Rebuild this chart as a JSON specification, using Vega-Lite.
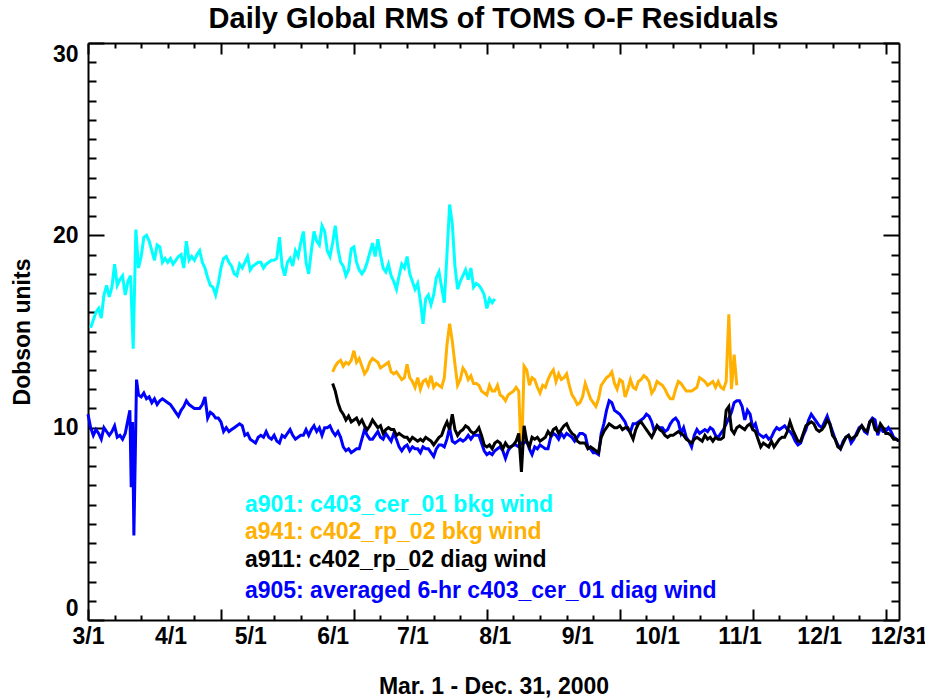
{
"$schema": "https://vega.github.io/schema/vega-lite/v6.json",
"width": 811, "height": 577,
"autosize": {"type": "none"},
"padding": {"left": 88, "top": 43, "right": 26, "bottom": 80},
"background": "white",
"title": {"text": "Daily Global RMS of TOMS O-F Residuals", "font": "Liberation Sans", "fontSize": 29, "fontWeight": "bold", "color": "black", "anchor": "middle", "frame": "group", "baseline": "alphabetic", "offset": -15},
"config": {
  "view": {"stroke": null},
  "axis": {"domainColor": "black", "tickColor": "black", "labelColor": "black", "titleColor": "black", "labelFont": "Liberation Sans", "titleFont": "Liberation Sans", "labelFontWeight": "bold", "titleFontWeight": "bold", "labelFontSize": 23, "titleFontSize": 23, "grid": false, "domainWidth": 2, "tickWidth": 2, "labelOverlap": false, "labelFlush": false}
},
"datasets": {
"ts": [
{"s":"a901","d":"2000-03-02","v":15.2},{"s":"a901","d":"2000-03-03","v":15.6},{"s":"a901","d":"2000-03-04","v":16.0},{"s":"a901","d":"2000-03-05","v":16.2},{"s":"a901","d":"2000-03-06","v":15.7},{"s":"a901","d":"2000-03-07","v":16.9},{"s":"a901","d":"2000-03-08","v":17.4},{"s":"a901","d":"2000-03-09","v":16.8},{"s":"a901","d":"2000-03-10","v":17.3},{"s":"a901","d":"2000-03-11","v":18.5},{"s":"a901","d":"2000-03-12","v":17.4},{"s":"a901","d":"2000-03-13","v":17.7},{"s":"a901","d":"2000-03-14","v":17.9},{"s":"a901","d":"2000-03-15","v":16.9},{"s":"a901","d":"2000-03-16","v":17.6},{"s":"a901","d":"2000-03-17","v":17.9},{"s":"a901","d":"2000-03-18","v":14.1},{"s":"a901","d":"2000-03-19","v":20.3},{"s":"a901","d":"2000-03-20","v":18.3},{"s":"a901","d":"2000-03-21","v":18.9},{"s":"a901","d":"2000-03-22","v":19.9},{"s":"a901","d":"2000-03-23","v":20.0},{"s":"a901","d":"2000-03-24","v":19.7},{"s":"a901","d":"2000-03-25","v":19.2},{"s":"a901","d":"2000-03-26","v":18.7},{"s":"a901","d":"2000-03-27","v":19.5},{"s":"a901","d":"2000-03-28","v":19.4},{"s":"a901","d":"2000-03-29","v":18.6},{"s":"a901","d":"2000-03-30","v":18.8},{"s":"a901","d":"2000-03-31","v":18.6},
{"s":"a901","d":"2000-04-01","v":18.8},{"s":"a901","d":"2000-04-02","v":18.5},{"s":"a901","d":"2000-04-03","v":18.7},{"s":"a901","d":"2000-04-04","v":18.9},{"s":"a901","d":"2000-04-05","v":19.0},{"s":"a901","d":"2000-04-06","v":18.3},{"s":"a901","d":"2000-04-07","v":19.7},{"s":"a901","d":"2000-04-08","v":18.7},{"s":"a901","d":"2000-04-09","v":18.9},{"s":"a901","d":"2000-04-10","v":18.7},{"s":"a901","d":"2000-04-11","v":19.0},{"s":"a901","d":"2000-04-12","v":19.2},{"s":"a901","d":"2000-04-13","v":18.6},{"s":"a901","d":"2000-04-14","v":18.3},{"s":"a901","d":"2000-04-15","v":17.8},{"s":"a901","d":"2000-04-16","v":17.4},{"s":"a901","d":"2000-04-17","v":17.3},{"s":"a901","d":"2000-04-18","v":16.9},{"s":"a901","d":"2000-04-19","v":17.5},{"s":"a901","d":"2000-04-20","v":18.3},{"s":"a901","d":"2000-04-21","v":18.8},{"s":"a901","d":"2000-04-22","v":18.9},{"s":"a901","d":"2000-04-23","v":18.6},{"s":"a901","d":"2000-04-24","v":18.4},{"s":"a901","d":"2000-04-25","v":18.0},{"s":"a901","d":"2000-04-26","v":17.9},{"s":"a901","d":"2000-04-27","v":18.5},{"s":"a901","d":"2000-04-28","v":18.3},{"s":"a901","d":"2000-04-29","v":18.6},{"s":"a901","d":"2000-04-30","v":18.9},
{"s":"a901","d":"2000-05-01","v":18.2},{"s":"a901","d":"2000-05-02","v":18.4},{"s":"a901","d":"2000-05-03","v":18.5},{"s":"a901","d":"2000-05-04","v":18.6},{"s":"a901","d":"2000-05-05","v":18.6},{"s":"a901","d":"2000-05-06","v":18.3},{"s":"a901","d":"2000-05-07","v":18.5},{"s":"a901","d":"2000-05-08","v":18.6},{"s":"a901","d":"2000-05-09","v":18.7},{"s":"a901","d":"2000-05-10","v":18.7},{"s":"a901","d":"2000-05-11","v":18.8},{"s":"a901","d":"2000-05-12","v":19.9},{"s":"a901","d":"2000-05-13","v":18.4},{"s":"a901","d":"2000-05-14","v":17.9},{"s":"a901","d":"2000-05-15","v":18.6},{"s":"a901","d":"2000-05-16","v":18.8},{"s":"a901","d":"2000-05-17","v":18.4},{"s":"a901","d":"2000-05-18","v":19.2},{"s":"a901","d":"2000-05-19","v":18.9},{"s":"a901","d":"2000-05-20","v":19.6},{"s":"a901","d":"2000-05-21","v":20.2},{"s":"a901","d":"2000-05-22","v":18.6},{"s":"a901","d":"2000-05-23","v":18.0},{"s":"a901","d":"2000-05-24","v":19.2},{"s":"a901","d":"2000-05-25","v":20.2},{"s":"a901","d":"2000-05-26","v":19.7},{"s":"a901","d":"2000-05-27","v":19.5},{"s":"a901","d":"2000-05-28","v":20.5},{"s":"a901","d":"2000-05-29","v":20.2},{"s":"a901","d":"2000-05-30","v":19.2},{"s":"a901","d":"2000-05-31","v":18.9},
{"s":"a901","d":"2000-06-01","v":19.6},{"s":"a901","d":"2000-06-02","v":20.5},{"s":"a901","d":"2000-06-03","v":19.3},{"s":"a901","d":"2000-06-04","v":18.6},{"s":"a901","d":"2000-06-05","v":18.4},{"s":"a901","d":"2000-06-06","v":17.9},{"s":"a901","d":"2000-06-07","v":18.2},{"s":"a901","d":"2000-06-08","v":19.3},{"s":"a901","d":"2000-06-09","v":19.4},{"s":"a901","d":"2000-06-10","v":18.6},{"s":"a901","d":"2000-06-11","v":18.2},{"s":"a901","d":"2000-06-12","v":18.0},{"s":"a901","d":"2000-06-13","v":18.2},{"s":"a901","d":"2000-06-14","v":18.6},{"s":"a901","d":"2000-06-15","v":19.1},{"s":"a901","d":"2000-06-16","v":19.6},{"s":"a901","d":"2000-06-17","v":18.9},{"s":"a901","d":"2000-06-18","v":19.8},{"s":"a901","d":"2000-06-19","v":19.0},{"s":"a901","d":"2000-06-20","v":18.3},{"s":"a901","d":"2000-06-21","v":18.1},{"s":"a901","d":"2000-06-22","v":18.5},{"s":"a901","d":"2000-06-23","v":17.9},{"s":"a901","d":"2000-06-24","v":17.6},{"s":"a901","d":"2000-06-25","v":17.2},{"s":"a901","d":"2000-06-26","v":17.9},{"s":"a901","d":"2000-06-27","v":18.5},{"s":"a901","d":"2000-06-28","v":18.3},{"s":"a901","d":"2000-06-29","v":18.9},{"s":"a901","d":"2000-06-30","v":18.0},
{"s":"a901","d":"2000-07-01","v":17.6},{"s":"a901","d":"2000-07-02","v":17.2},{"s":"a901","d":"2000-07-03","v":17.5},{"s":"a901","d":"2000-07-04","v":16.6},{"s":"a901","d":"2000-07-05","v":15.4},{"s":"a901","d":"2000-07-06","v":16.7},{"s":"a901","d":"2000-07-07","v":16.9},{"s":"a901","d":"2000-07-08","v":16.4},{"s":"a901","d":"2000-07-09","v":16.9},{"s":"a901","d":"2000-07-10","v":17.8},{"s":"a901","d":"2000-07-11","v":18.1},{"s":"a901","d":"2000-07-12","v":17.3},{"s":"a901","d":"2000-07-13","v":16.5},{"s":"a901","d":"2000-07-14","v":19.0},{"s":"a901","d":"2000-07-15","v":21.6},{"s":"a901","d":"2000-07-16","v":20.6},{"s":"a901","d":"2000-07-17","v":18.4},{"s":"a901","d":"2000-07-18","v":17.2},{"s":"a901","d":"2000-07-19","v":17.6},{"s":"a901","d":"2000-07-20","v":17.9},{"s":"a901","d":"2000-07-21","v":18.2},{"s":"a901","d":"2000-07-22","v":17.7},{"s":"a901","d":"2000-07-23","v":18.3},{"s":"a901","d":"2000-07-24","v":17.3},{"s":"a901","d":"2000-07-25","v":17.5},{"s":"a901","d":"2000-07-26","v":17.4},{"s":"a901","d":"2000-07-27","v":17.2},{"s":"a901","d":"2000-07-28","v":16.9},{"s":"a901","d":"2000-07-29","v":16.2},{"s":"a901","d":"2000-07-30","v":16.7},{"s":"a901","d":"2000-07-31","v":16.5},{"s":"a901","d":"2000-08-01","v":16.7},

{"s":"a941","d":"2000-06-01","v":12.9},{"s":"a941","d":"2000-06-02","v":13.2},{"s":"a941","d":"2000-06-03","v":13.4},{"s":"a941","d":"2000-06-04","v":13.5},{"s":"a941","d":"2000-06-05","v":13.2},{"s":"a941","d":"2000-06-06","v":13.4},{"s":"a941","d":"2000-06-07","v":13.3},{"s":"a941","d":"2000-06-08","v":13.5},{"s":"a941","d":"2000-06-09","v":14.0},{"s":"a941","d":"2000-06-10","v":13.4},{"s":"a941","d":"2000-06-11","v":13.6},{"s":"a941","d":"2000-06-12","v":13.2},{"s":"a941","d":"2000-06-13","v":12.8},{"s":"a941","d":"2000-06-14","v":13.0},{"s":"a941","d":"2000-06-15","v":13.4},{"s":"a941","d":"2000-06-16","v":13.6},{"s":"a941","d":"2000-06-17","v":13.5},{"s":"a941","d":"2000-06-18","v":13.4},{"s":"a941","d":"2000-06-19","v":13.1},{"s":"a941","d":"2000-06-20","v":13.2},{"s":"a941","d":"2000-06-21","v":13.3},{"s":"a941","d":"2000-06-22","v":13.4},{"s":"a941","d":"2000-06-23","v":12.9},{"s":"a941","d":"2000-06-24","v":12.8},{"s":"a941","d":"2000-06-25","v":12.9},{"s":"a941","d":"2000-06-26","v":12.7},{"s":"a941","d":"2000-06-27","v":12.5},{"s":"a941","d":"2000-06-28","v":12.6},{"s":"a941","d":"2000-06-29","v":13.3},{"s":"a941","d":"2000-06-30","v":12.6},
{"s":"a941","d":"2000-07-01","v":12.4},{"s":"a941","d":"2000-07-02","v":12.1},{"s":"a941","d":"2000-07-03","v":12.6},{"s":"a941","d":"2000-07-04","v":12.0},{"s":"a941","d":"2000-07-05","v":12.4},{"s":"a941","d":"2000-07-06","v":12.5},{"s":"a941","d":"2000-07-07","v":12.2},{"s":"a941","d":"2000-07-08","v":12.7},{"s":"a941","d":"2000-07-09","v":12.1},{"s":"a941","d":"2000-07-10","v":12.3},{"s":"a941","d":"2000-07-11","v":12.2},{"s":"a941","d":"2000-07-12","v":12.1},{"s":"a941","d":"2000-07-13","v":12.6},{"s":"a941","d":"2000-07-14","v":14.3},{"s":"a941","d":"2000-07-15","v":15.4},{"s":"a941","d":"2000-07-16","v":14.5},{"s":"a941","d":"2000-07-17","v":13.3},{"s":"a941","d":"2000-07-18","v":12.2},{"s":"a941","d":"2000-07-19","v":12.5},{"s":"a941","d":"2000-07-20","v":13.1},{"s":"a941","d":"2000-07-21","v":12.9},{"s":"a941","d":"2000-07-22","v":12.5},{"s":"a941","d":"2000-07-23","v":12.7},{"s":"a941","d":"2000-07-24","v":12.3},{"s":"a941","d":"2000-07-25","v":12.3},{"s":"a941","d":"2000-07-26","v":12.2},{"s":"a941","d":"2000-07-27","v":11.9},{"s":"a941","d":"2000-07-28","v":11.8},{"s":"a941","d":"2000-07-29","v":11.7},{"s":"a941","d":"2000-07-30","v":12.2},{"s":"a941","d":"2000-07-31","v":11.9},
{"s":"a941","d":"2000-08-01","v":11.9},{"s":"a941","d":"2000-08-02","v":12.2},{"s":"a941","d":"2000-08-03","v":11.7},{"s":"a941","d":"2000-08-04","v":11.6},{"s":"a941","d":"2000-08-05","v":11.4},{"s":"a941","d":"2000-08-06","v":11.7},{"s":"a941","d":"2000-08-07","v":11.8},{"s":"a941","d":"2000-08-08","v":11.9},{"s":"a941","d":"2000-08-09","v":12.1},{"s":"a941","d":"2000-08-10","v":11.9},{"s":"a941","d":"2000-08-11","v":8.2},{"s":"a941","d":"2000-08-12","v":13.2},{"s":"a941","d":"2000-08-13","v":13.0},{"s":"a941","d":"2000-08-14","v":12.2},{"s":"a941","d":"2000-08-15","v":12.6},{"s":"a941","d":"2000-08-16","v":12.5},{"s":"a941","d":"2000-08-17","v":12.1},{"s":"a941","d":"2000-08-18","v":11.8},{"s":"a941","d":"2000-08-19","v":12.2},{"s":"a941","d":"2000-08-20","v":12.1},{"s":"a941","d":"2000-08-21","v":12.5},{"s":"a941","d":"2000-08-22","v":12.8},{"s":"a941","d":"2000-08-23","v":13.0},{"s":"a941","d":"2000-08-24","v":12.4},{"s":"a941","d":"2000-08-25","v":12.8},{"s":"a941","d":"2000-08-26","v":12.5},{"s":"a941","d":"2000-08-27","v":12.6},{"s":"a941","d":"2000-08-28","v":12.8},{"s":"a941","d":"2000-08-29","v":12.2},{"s":"a941","d":"2000-08-30","v":11.7},{"s":"a941","d":"2000-08-31","v":11.5},
{"s":"a941","d":"2000-09-01","v":11.2},{"s":"a941","d":"2000-09-02","v":11.3},{"s":"a941","d":"2000-09-03","v":11.6},{"s":"a941","d":"2000-09-04","v":12.3},{"s":"a941","d":"2000-09-05","v":11.9},{"s":"a941","d":"2000-09-06","v":11.5},{"s":"a941","d":"2000-09-07","v":11.3},{"s":"a941","d":"2000-09-08","v":11.1},{"s":"a941","d":"2000-09-09","v":11.5},{"s":"a941","d":"2000-09-10","v":12.2},{"s":"a941","d":"2000-09-11","v":12.4},{"s":"a941","d":"2000-09-12","v":12.6},{"s":"a941","d":"2000-09-13","v":12.7},{"s":"a941","d":"2000-09-14","v":12.9},{"s":"a941","d":"2000-09-15","v":12.3},{"s":"a941","d":"2000-09-16","v":12.0},{"s":"a941","d":"2000-09-17","v":12.5},{"s":"a941","d":"2000-09-18","v":12.4},{"s":"a941","d":"2000-09-19","v":11.6},{"s":"a941","d":"2000-09-20","v":12.0},{"s":"a941","d":"2000-09-21","v":12.5},{"s":"a941","d":"2000-09-22","v":12.1},{"s":"a941","d":"2000-09-23","v":12.0},{"s":"a941","d":"2000-09-24","v":12.4},{"s":"a941","d":"2000-09-25","v":12.5},{"s":"a941","d":"2000-09-26","v":12.7},{"s":"a941","d":"2000-09-27","v":12.6},{"s":"a941","d":"2000-09-28","v":12.4},{"s":"a941","d":"2000-09-29","v":11.8},{"s":"a941","d":"2000-09-30","v":12.0},
{"s":"a941","d":"2000-10-01","v":12.4},{"s":"a941","d":"2000-10-02","v":12.3},{"s":"a941","d":"2000-10-03","v":12.2},{"s":"a941","d":"2000-10-04","v":12.0},{"s":"a941","d":"2000-10-05","v":11.7},{"s":"a941","d":"2000-10-06","v":11.5},{"s":"a941","d":"2000-10-07","v":11.5},{"s":"a941","d":"2000-10-08","v":12.0},{"s":"a941","d":"2000-10-09","v":12.4},{"s":"a941","d":"2000-10-10","v":12.3},{"s":"a941","d":"2000-10-11","v":12.1},{"s":"a941","d":"2000-10-12","v":11.9},{"s":"a941","d":"2000-10-13","v":11.9},{"s":"a941","d":"2000-10-14","v":11.9},{"s":"a941","d":"2000-10-15","v":12.0},{"s":"a941","d":"2000-10-16","v":12.1},{"s":"a941","d":"2000-10-17","v":12.6},{"s":"a941","d":"2000-10-18","v":12.5},{"s":"a941","d":"2000-10-19","v":12.4},{"s":"a941","d":"2000-10-20","v":12.2},{"s":"a941","d":"2000-10-21","v":12.3},{"s":"a941","d":"2000-10-22","v":12.4},{"s":"a941","d":"2000-10-23","v":12.1},{"s":"a941","d":"2000-10-24","v":12.4},{"s":"a941","d":"2000-10-25","v":12.1},{"s":"a941","d":"2000-10-26","v":12.0},{"s":"a941","d":"2000-10-27","v":12.4},{"s":"a941","d":"2000-10-28","v":15.9},{"s":"a941","d":"2000-10-29","v":12.0},{"s":"a941","d":"2000-10-30","v":13.8},{"s":"a941","d":"2000-10-31","v":12.2},

{"s":"a905","d":"2000-03-01","v":10.7},{"s":"a905","d":"2000-03-02","v":10.0},{"s":"a905","d":"2000-03-03","v":9.6},{"s":"a905","d":"2000-03-04","v":9.9},{"s":"a905","d":"2000-03-05","v":9.7},{"s":"a905","d":"2000-03-06","v":9.4},{"s":"a905","d":"2000-03-07","v":10.0},{"s":"a905","d":"2000-03-08","v":9.8},{"s":"a905","d":"2000-03-09","v":9.6},{"s":"a905","d":"2000-03-10","v":9.8},{"s":"a905","d":"2000-03-11","v":10.1},{"s":"a905","d":"2000-03-12","v":9.5},{"s":"a905","d":"2000-03-13","v":9.6},{"s":"a905","d":"2000-03-14","v":9.4},{"s":"a905","d":"2000-03-15","v":9.7},{"s":"a905","d":"2000-03-16","v":10.4},{"s":"a905","d":"2000-03-16T18:00:00Z","v":10.9},{"s":"a905","d":"2000-03-17T06:00:00Z","v":6.9},{"s":"a905","d":"2000-03-17T18:00:00Z","v":10.3},{"s":"a905","d":"2000-03-18T06:00:00Z","v":4.4},{"s":"a905","d":"2000-03-18T18:00:00Z","v":8.3},{"s":"a905","d":"2000-03-19T06:00:00Z","v":12.5},{"s":"a905","d":"2000-03-20","v":11.7},{"s":"a905","d":"2000-03-21","v":11.6},{"s":"a905","d":"2000-03-22","v":11.8},{"s":"a905","d":"2000-03-23","v":11.5},{"s":"a905","d":"2000-03-24","v":11.6},{"s":"a905","d":"2000-03-25","v":11.3},{"s":"a905","d":"2000-03-26","v":11.5},{"s":"a905","d":"2000-03-27","v":11.2},{"s":"a905","d":"2000-03-28","v":11.4},{"s":"a905","d":"2000-03-29","v":11.5},{"s":"a905","d":"2000-03-30","v":11.4},{"s":"a905","d":"2000-03-31","v":11.3},
{"s":"a905","d":"2000-04-01","v":11.2},{"s":"a905","d":"2000-04-02","v":11.0},{"s":"a905","d":"2000-04-03","v":10.8},{"s":"a905","d":"2000-04-04","v":10.6},{"s":"a905","d":"2000-04-05","v":10.9},{"s":"a905","d":"2000-04-06","v":11.1},{"s":"a905","d":"2000-04-07","v":11.4},{"s":"a905","d":"2000-04-08","v":11.2},{"s":"a905","d":"2000-04-09","v":11.1},{"s":"a905","d":"2000-04-10","v":11.0},{"s":"a905","d":"2000-04-11","v":11.0},{"s":"a905","d":"2000-04-12","v":11.0},{"s":"a905","d":"2000-04-13","v":11.2},{"s":"a905","d":"2000-04-14","v":11.6},{"s":"a905","d":"2000-04-15","v":10.5},{"s":"a905","d":"2000-04-16","v":10.8},{"s":"a905","d":"2000-04-17","v":10.7},{"s":"a905","d":"2000-04-18","v":10.5},{"s":"a905","d":"2000-04-19","v":10.5},{"s":"a905","d":"2000-04-20","v":10.3},{"s":"a905","d":"2000-04-21","v":9.8},{"s":"a905","d":"2000-04-22","v":10.0},{"s":"a905","d":"2000-04-23","v":9.8},{"s":"a905","d":"2000-04-24","v":9.9},{"s":"a905","d":"2000-04-25","v":10.0},{"s":"a905","d":"2000-04-26","v":10.1},{"s":"a905","d":"2000-04-27","v":10.2},{"s":"a905","d":"2000-04-28","v":10.1},{"s":"a905","d":"2000-04-29","v":9.6},{"s":"a905","d":"2000-04-30","v":9.7},
{"s":"a905","d":"2000-05-01","v":9.4},{"s":"a905","d":"2000-05-02","v":9.3},{"s":"a905","d":"2000-05-03","v":9.2},{"s":"a905","d":"2000-05-04","v":9.5},{"s":"a905","d":"2000-05-05","v":9.6},{"s":"a905","d":"2000-05-06","v":9.5},{"s":"a905","d":"2000-05-07","v":9.8},{"s":"a905","d":"2000-05-08","v":9.5},{"s":"a905","d":"2000-05-09","v":9.4},{"s":"a905","d":"2000-05-10","v":9.6},{"s":"a905","d":"2000-05-11","v":9.3},{"s":"a905","d":"2000-05-12","v":9.2},{"s":"a905","d":"2000-05-13","v":9.6},{"s":"a905","d":"2000-05-14","v":9.5},{"s":"a905","d":"2000-05-15","v":9.7},{"s":"a905","d":"2000-05-16","v":9.9},{"s":"a905","d":"2000-05-17","v":9.6},{"s":"a905","d":"2000-05-18","v":9.4},{"s":"a905","d":"2000-05-19","v":9.5},{"s":"a905","d":"2000-05-20","v":9.6},{"s":"a905","d":"2000-05-21","v":9.6},{"s":"a905","d":"2000-05-22","v":9.9},{"s":"a905","d":"2000-05-23","v":9.6},{"s":"a905","d":"2000-05-24","v":9.9},{"s":"a905","d":"2000-05-25","v":10.1},{"s":"a905","d":"2000-05-26","v":9.8},{"s":"a905","d":"2000-05-27","v":10.0},{"s":"a905","d":"2000-05-28","v":9.6},{"s":"a905","d":"2000-05-29","v":10.0},{"s":"a905","d":"2000-05-30","v":10.0},{"s":"a905","d":"2000-05-31","v":10.1},
{"s":"a905","d":"2000-06-01","v":9.8},{"s":"a905","d":"2000-06-02","v":9.6},{"s":"a905","d":"2000-06-03","v":9.8},{"s":"a905","d":"2000-06-04","v":9.5},{"s":"a905","d":"2000-06-05","v":9.0},{"s":"a905","d":"2000-06-06","v":8.8},{"s":"a905","d":"2000-06-07","v":8.9},{"s":"a905","d":"2000-06-08","v":8.7},{"s":"a905","d":"2000-06-09","v":8.8},{"s":"a905","d":"2000-06-10","v":8.9},{"s":"a905","d":"2000-06-11","v":8.9},{"s":"a905","d":"2000-06-12","v":9.4},{"s":"a905","d":"2000-06-13","v":9.9},{"s":"a905","d":"2000-06-14","v":9.6},{"s":"a905","d":"2000-06-15","v":9.4},{"s":"a905","d":"2000-06-16","v":9.4},{"s":"a905","d":"2000-06-17","v":9.6},{"s":"a905","d":"2000-06-18","v":9.8},{"s":"a905","d":"2000-06-19","v":9.5},{"s":"a905","d":"2000-06-20","v":9.4},{"s":"a905","d":"2000-06-21","v":9.7},{"s":"a905","d":"2000-06-22","v":9.5},{"s":"a905","d":"2000-06-23","v":9.3},{"s":"a905","d":"2000-06-24","v":9.7},{"s":"a905","d":"2000-06-25","v":9.4},{"s":"a905","d":"2000-06-26","v":9.0},{"s":"a905","d":"2000-06-27","v":8.8},{"s":"a905","d":"2000-06-28","v":9.0},{"s":"a905","d":"2000-06-29","v":9.1},{"s":"a905","d":"2000-06-30","v":8.8},
{"s":"a905","d":"2000-07-01","v":9.0},{"s":"a905","d":"2000-07-02","v":8.9},{"s":"a905","d":"2000-07-03","v":8.9},{"s":"a905","d":"2000-07-04","v":8.7},{"s":"a905","d":"2000-07-05","v":9.0},{"s":"a905","d":"2000-07-06","v":8.9},{"s":"a905","d":"2000-07-07","v":8.9},{"s":"a905","d":"2000-07-08","v":8.7},{"s":"a905","d":"2000-07-09","v":8.5},{"s":"a905","d":"2000-07-10","v":8.9},{"s":"a905","d":"2000-07-11","v":9.1},{"s":"a905","d":"2000-07-12","v":9.1},{"s":"a905","d":"2000-07-13","v":9.0},{"s":"a905","d":"2000-07-14","v":9.4},{"s":"a905","d":"2000-07-15","v":10.0},{"s":"a905","d":"2000-07-16","v":9.3},{"s":"a905","d":"2000-07-17","v":9.2},{"s":"a905","d":"2000-07-18","v":9.3},{"s":"a905","d":"2000-07-19","v":9.4},{"s":"a905","d":"2000-07-20","v":9.3},{"s":"a905","d":"2000-07-21","v":9.4},{"s":"a905","d":"2000-07-22","v":9.6},{"s":"a905","d":"2000-07-23","v":9.4},{"s":"a905","d":"2000-07-24","v":9.6},{"s":"a905","d":"2000-07-25","v":9.6},{"s":"a905","d":"2000-07-26","v":9.6},{"s":"a905","d":"2000-07-27","v":9.2},{"s":"a905","d":"2000-07-28","v":8.8},{"s":"a905","d":"2000-07-29","v":8.6},{"s":"a905","d":"2000-07-30","v":8.7},{"s":"a905","d":"2000-07-31","v":8.6},
{"s":"a905","d":"2000-08-01","v":8.8},{"s":"a905","d":"2000-08-02","v":8.9},{"s":"a905","d":"2000-08-03","v":9.0},{"s":"a905","d":"2000-08-04","v":8.8},{"s":"a905","d":"2000-08-05","v":8.4},{"s":"a905","d":"2000-08-06","v":8.8},{"s":"a905","d":"2000-08-07","v":9.0},{"s":"a905","d":"2000-08-08","v":9.1},{"s":"a905","d":"2000-08-09","v":9.1},{"s":"a905","d":"2000-08-10","v":9.0},{"s":"a905","d":"2000-08-11","v":9.2},{"s":"a905","d":"2000-08-12","v":9.2},{"s":"a905","d":"2000-08-13","v":9.3},{"s":"a905","d":"2000-08-14","v":8.9},{"s":"a905","d":"2000-08-15","v":8.6},{"s":"a905","d":"2000-08-16","v":9.0},{"s":"a905","d":"2000-08-17","v":8.9},{"s":"a905","d":"2000-08-18","v":9.1},{"s":"a905","d":"2000-08-19","v":9.0},{"s":"a905","d":"2000-08-20","v":8.9},{"s":"a905","d":"2000-08-21","v":8.9},{"s":"a905","d":"2000-08-22","v":9.5},{"s":"a905","d":"2000-08-23","v":9.7},{"s":"a905","d":"2000-08-24","v":9.6},{"s":"a905","d":"2000-08-25","v":9.4},{"s":"a905","d":"2000-08-26","v":9.7},{"s":"a905","d":"2000-08-27","v":9.5},{"s":"a905","d":"2000-08-28","v":9.7},{"s":"a905","d":"2000-08-29","v":9.6},{"s":"a905","d":"2000-08-30","v":9.5},{"s":"a905","d":"2000-08-31","v":9.3},
{"s":"a905","d":"2000-09-01","v":9.5},{"s":"a905","d":"2000-09-02","v":9.7},{"s":"a905","d":"2000-09-03","v":9.7},{"s":"a905","d":"2000-09-04","v":9.6},{"s":"a905","d":"2000-09-05","v":9.0},{"s":"a905","d":"2000-09-06","v":8.9},{"s":"a905","d":"2000-09-07","v":8.7},{"s":"a905","d":"2000-09-08","v":8.7},{"s":"a905","d":"2000-09-09","v":8.6},{"s":"a905","d":"2000-09-10","v":9.7},{"s":"a905","d":"2000-09-11","v":10.2},{"s":"a905","d":"2000-09-12","v":10.9},{"s":"a905","d":"2000-09-13","v":11.4},{"s":"a905","d":"2000-09-14","v":11.3},{"s":"a905","d":"2000-09-15","v":10.9},{"s":"a905","d":"2000-09-16","v":10.8},{"s":"a905","d":"2000-09-17","v":10.7},{"s":"a905","d":"2000-09-18","v":10.5},{"s":"a905","d":"2000-09-19","v":10.3},{"s":"a905","d":"2000-09-20","v":9.9},{"s":"a905","d":"2000-09-21","v":9.8},{"s":"a905","d":"2000-09-22","v":10.2},{"s":"a905","d":"2000-09-23","v":10.2},{"s":"a905","d":"2000-09-24","v":10.3},{"s":"a905","d":"2000-09-25","v":10.4},{"s":"a905","d":"2000-09-26","v":10.5},{"s":"a905","d":"2000-09-27","v":10.7},{"s":"a905","d":"2000-09-28","v":10.6},{"s":"a905","d":"2000-09-29","v":10.3},{"s":"a905","d":"2000-09-30","v":9.8},
{"s":"a905","d":"2000-10-01","v":10.1},{"s":"a905","d":"2000-10-02","v":10.0},{"s":"a905","d":"2000-10-03","v":10.0},{"s":"a905","d":"2000-10-04","v":9.8},{"s":"a905","d":"2000-10-05","v":9.9},{"s":"a905","d":"2000-10-06","v":10.2},{"s":"a905","d":"2000-10-07","v":10.4},{"s":"a905","d":"2000-10-08","v":10.5},{"s":"a905","d":"2000-10-09","v":10.3},{"s":"a905","d":"2000-10-10","v":9.7},{"s":"a905","d":"2000-10-11","v":10.0},{"s":"a905","d":"2000-10-12","v":9.5},{"s":"a905","d":"2000-10-13","v":9.3},{"s":"a905","d":"2000-10-14","v":9.0},{"s":"a905","d":"2000-10-15","v":9.6},{"s":"a905","d":"2000-10-16","v":9.9},{"s":"a905","d":"2000-10-17","v":9.7},{"s":"a905","d":"2000-10-18","v":9.8},{"s":"a905","d":"2000-10-19","v":9.9},{"s":"a905","d":"2000-10-20","v":9.8},{"s":"a905","d":"2000-10-21","v":10.0},{"s":"a905","d":"2000-10-22","v":9.9},{"s":"a905","d":"2000-10-23","v":9.6},{"s":"a905","d":"2000-10-24","v":9.5},{"s":"a905","d":"2000-10-25","v":9.7},{"s":"a905","d":"2000-10-26","v":9.9},{"s":"a905","d":"2000-10-27","v":10.2},{"s":"a905","d":"2000-10-28","v":10.5},{"s":"a905","d":"2000-10-29","v":10.8},{"s":"a905","d":"2000-10-30","v":11.3},{"s":"a905","d":"2000-10-31","v":11.4},
{"s":"a905","d":"2000-11-01","v":11.4},{"s":"a905","d":"2000-11-02","v":11.1},{"s":"a905","d":"2000-11-03","v":10.4},{"s":"a905","d":"2000-11-04","v":10.9},{"s":"a905","d":"2000-11-05","v":10.7},{"s":"a905","d":"2000-11-06","v":10.0},{"s":"a905","d":"2000-11-07","v":10.2},{"s":"a905","d":"2000-11-08","v":9.7},{"s":"a905","d":"2000-11-09","v":9.6},{"s":"a905","d":"2000-11-10","v":9.5},{"s":"a905","d":"2000-11-11","v":9.6},{"s":"a905","d":"2000-11-12","v":9.4},{"s":"a905","d":"2000-11-13","v":9.5},{"s":"a905","d":"2000-11-14","v":9.8},{"s":"a905","d":"2000-11-15","v":10.0},{"s":"a905","d":"2000-11-16","v":9.9},{"s":"a905","d":"2000-11-17","v":10.0},{"s":"a905","d":"2000-11-18","v":10.1},{"s":"a905","d":"2000-11-19","v":9.9},{"s":"a905","d":"2000-11-20","v":9.8},{"s":"a905","d":"2000-11-21","v":9.6},{"s":"a905","d":"2000-11-22","v":9.3},{"s":"a905","d":"2000-11-23","v":9.1},{"s":"a905","d":"2000-11-24","v":9.2},{"s":"a905","d":"2000-11-25","v":9.6},{"s":"a905","d":"2000-11-26","v":9.9},{"s":"a905","d":"2000-11-27","v":10.4},{"s":"a905","d":"2000-11-28","v":10.7},{"s":"a905","d":"2000-11-29","v":10.5},{"s":"a905","d":"2000-11-30","v":10.3},
{"s":"a905","d":"2000-12-01","v":10.1},{"s":"a905","d":"2000-12-02","v":10.0},{"s":"a905","d":"2000-12-03","v":10.3},{"s":"a905","d":"2000-12-04","v":10.6},{"s":"a905","d":"2000-12-05","v":10.2},{"s":"a905","d":"2000-12-06","v":9.8},{"s":"a905","d":"2000-12-07","v":9.4},{"s":"a905","d":"2000-12-08","v":9.1},{"s":"a905","d":"2000-12-09","v":8.9},{"s":"a905","d":"2000-12-10","v":9.3},{"s":"a905","d":"2000-12-11","v":9.5},{"s":"a905","d":"2000-12-12","v":9.6},{"s":"a905","d":"2000-12-13","v":9.2},{"s":"a905","d":"2000-12-14","v":9.4},{"s":"a905","d":"2000-12-15","v":9.7},{"s":"a905","d":"2000-12-16","v":10.0},{"s":"a905","d":"2000-12-17","v":10.1},{"s":"a905","d":"2000-12-18","v":9.8},{"s":"a905","d":"2000-12-19","v":9.7},{"s":"a905","d":"2000-12-20","v":10.3},{"s":"a905","d":"2000-12-21","v":10.5},{"s":"a905","d":"2000-12-22","v":10.4},{"s":"a905","d":"2000-12-23","v":9.6},{"s":"a905","d":"2000-12-24","v":10.0},{"s":"a905","d":"2000-12-25","v":9.8},{"s":"a905","d":"2000-12-26","v":9.8},{"s":"a905","d":"2000-12-27","v":10.0},{"s":"a905","d":"2000-12-28","v":9.8},{"s":"a905","d":"2000-12-29","v":9.5},{"s":"a905","d":"2000-12-30","v":9.4},{"s":"a905","d":"2000-12-31","v":9.3},

{"s":"a911","d":"2000-06-01","v":12.3},{"s":"a911","d":"2000-06-02","v":11.9},{"s":"a911","d":"2000-06-03","v":11.3},{"s":"a911","d":"2000-06-04","v":10.9},{"s":"a911","d":"2000-06-05","v":10.7},{"s":"a911","d":"2000-06-06","v":10.4},{"s":"a911","d":"2000-06-07","v":10.6},{"s":"a911","d":"2000-06-08","v":10.3},{"s":"a911","d":"2000-06-09","v":10.4},{"s":"a911","d":"2000-06-10","v":10.5},{"s":"a911","d":"2000-06-11","v":10.2},{"s":"a911","d":"2000-06-12","v":10.4},{"s":"a911","d":"2000-06-13","v":10.1},{"s":"a911","d":"2000-06-14","v":9.9},{"s":"a911","d":"2000-06-15","v":10.1},{"s":"a911","d":"2000-06-16","v":10.4},{"s":"a911","d":"2000-06-17","v":10.2},{"s":"a911","d":"2000-06-18","v":10.0},{"s":"a911","d":"2000-06-19","v":10.1},{"s":"a911","d":"2000-06-20","v":9.7},{"s":"a911","d":"2000-06-21","v":9.9},{"s":"a911","d":"2000-06-22","v":10.0},{"s":"a911","d":"2000-06-23","v":9.9},{"s":"a911","d":"2000-06-24","v":9.9},{"s":"a911","d":"2000-06-25","v":9.6},{"s":"a911","d":"2000-06-26","v":9.7},{"s":"a911","d":"2000-06-27","v":9.6},{"s":"a911","d":"2000-06-28","v":9.5},{"s":"a911","d":"2000-06-29","v":9.5},{"s":"a911","d":"2000-06-30","v":9.3},
{"s":"a911","d":"2000-07-01","v":9.5},{"s":"a911","d":"2000-07-02","v":9.4},{"s":"a911","d":"2000-07-03","v":9.3},{"s":"a911","d":"2000-07-04","v":9.4},{"s":"a911","d":"2000-07-05","v":9.3},{"s":"a911","d":"2000-07-06","v":9.5},{"s":"a911","d":"2000-07-07","v":9.4},{"s":"a911","d":"2000-07-08","v":9.3},{"s":"a911","d":"2000-07-09","v":9.1},{"s":"a911","d":"2000-07-10","v":9.3},{"s":"a911","d":"2000-07-11","v":9.5},{"s":"a911","d":"2000-07-12","v":9.6},{"s":"a911","d":"2000-07-13","v":10.0},{"s":"a911","d":"2000-07-14","v":10.3},{"s":"a911","d":"2000-07-15","v":9.9},{"s":"a911","d":"2000-07-16","v":10.7},{"s":"a911","d":"2000-07-17","v":9.9},{"s":"a911","d":"2000-07-18","v":9.6},{"s":"a911","d":"2000-07-19","v":9.8},{"s":"a911","d":"2000-07-20","v":9.9},{"s":"a911","d":"2000-07-21","v":10.1},{"s":"a911","d":"2000-07-22","v":10.0},{"s":"a911","d":"2000-07-23","v":9.8},{"s":"a911","d":"2000-07-24","v":9.7},{"s":"a911","d":"2000-07-25","v":9.8},{"s":"a911","d":"2000-07-26","v":10.0},{"s":"a911","d":"2000-07-27","v":9.6},{"s":"a911","d":"2000-07-28","v":9.1},{"s":"a911","d":"2000-07-29","v":9.0},{"s":"a911","d":"2000-07-30","v":9.1},{"s":"a911","d":"2000-07-31","v":8.9},
{"s":"a911","d":"2000-08-01","v":9.2},{"s":"a911","d":"2000-08-02","v":9.3},{"s":"a911","d":"2000-08-03","v":9.2},{"s":"a911","d":"2000-08-04","v":8.9},{"s":"a911","d":"2000-08-05","v":9.2},{"s":"a911","d":"2000-08-06","v":9.0},{"s":"a911","d":"2000-08-07","v":9.0},{"s":"a911","d":"2000-08-08","v":9.1},{"s":"a911","d":"2000-08-09","v":9.3},{"s":"a911","d":"2000-08-10","v":9.7},{"s":"a911","d":"2000-08-11","v":7.7},{"s":"a911","d":"2000-08-12","v":10.1},{"s":"a911","d":"2000-08-13","v":9.3},{"s":"a911","d":"2000-08-14","v":9.0},{"s":"a911","d":"2000-08-15","v":9.5},{"s":"a911","d":"2000-08-16","v":9.4},{"s":"a911","d":"2000-08-17","v":9.5},{"s":"a911","d":"2000-08-18","v":9.3},{"s":"a911","d":"2000-08-19","v":9.4},{"s":"a911","d":"2000-08-20","v":9.5},{"s":"a911","d":"2000-08-21","v":9.8},{"s":"a911","d":"2000-08-22","v":9.6},{"s":"a911","d":"2000-08-23","v":9.9},{"s":"a911","d":"2000-08-24","v":10.0},{"s":"a911","d":"2000-08-25","v":9.7},{"s":"a911","d":"2000-08-26","v":9.9},{"s":"a911","d":"2000-08-27","v":10.1},{"s":"a911","d":"2000-08-28","v":10.2},{"s":"a911","d":"2000-08-29","v":9.9},{"s":"a911","d":"2000-08-30","v":9.7},{"s":"a911","d":"2000-08-31","v":9.6},
{"s":"a911","d":"2000-09-01","v":9.3},{"s":"a911","d":"2000-09-02","v":9.2},{"s":"a911","d":"2000-09-03","v":9.2},{"s":"a911","d":"2000-09-04","v":9.2},{"s":"a911","d":"2000-09-05","v":8.9},{"s":"a911","d":"2000-09-06","v":9.0},{"s":"a911","d":"2000-09-07","v":8.9},{"s":"a911","d":"2000-09-08","v":8.8},{"s":"a911","d":"2000-09-09","v":8.7},{"s":"a911","d":"2000-09-10","v":9.5},{"s":"a911","d":"2000-09-11","v":9.8},{"s":"a911","d":"2000-09-12","v":10.0},{"s":"a911","d":"2000-09-13","v":10.2},{"s":"a911","d":"2000-09-14","v":10.1},{"s":"a911","d":"2000-09-15","v":10.0},{"s":"a911","d":"2000-09-16","v":10.0},{"s":"a911","d":"2000-09-17","v":10.1},{"s":"a911","d":"2000-09-18","v":9.9},{"s":"a911","d":"2000-09-19","v":10.0},{"s":"a911","d":"2000-09-20","v":10.0},{"s":"a911","d":"2000-09-21","v":9.7},{"s":"a911","d":"2000-09-22","v":9.4},{"s":"a911","d":"2000-09-23","v":9.9},{"s":"a911","d":"2000-09-24","v":10.2},{"s":"a911","d":"2000-09-25","v":10.3},{"s":"a911","d":"2000-09-26","v":10.1},{"s":"a911","d":"2000-09-27","v":9.9},{"s":"a911","d":"2000-09-28","v":9.7},{"s":"a911","d":"2000-09-29","v":9.5},{"s":"a911","d":"2000-09-30","v":9.8},
{"s":"a911","d":"2000-10-01","v":10.1},{"s":"a911","d":"2000-10-02","v":9.9},{"s":"a911","d":"2000-10-03","v":9.8},{"s":"a911","d":"2000-10-04","v":9.6},{"s":"a911","d":"2000-10-05","v":9.5},{"s":"a911","d":"2000-10-06","v":9.6},{"s":"a911","d":"2000-10-07","v":9.6},{"s":"a911","d":"2000-10-08","v":9.7},{"s":"a911","d":"2000-10-09","v":9.8},{"s":"a911","d":"2000-10-10","v":9.7},{"s":"a911","d":"2000-10-11","v":9.6},{"s":"a911","d":"2000-10-12","v":9.4},{"s":"a911","d":"2000-10-13","v":9.3},{"s":"a911","d":"2000-10-14","v":9.2},{"s":"a911","d":"2000-10-15","v":9.4},{"s":"a911","d":"2000-10-16","v":9.5},{"s":"a911","d":"2000-10-17","v":9.4},{"s":"a911","d":"2000-10-18","v":9.3},{"s":"a911","d":"2000-10-19","v":9.6},{"s":"a911","d":"2000-10-20","v":9.4},{"s":"a911","d":"2000-10-21","v":9.5},{"s":"a911","d":"2000-10-22","v":9.3},{"s":"a911","d":"2000-10-23","v":9.5},{"s":"a911","d":"2000-10-24","v":9.4},{"s":"a911","d":"2000-10-25","v":9.4},{"s":"a911","d":"2000-10-26","v":9.5},{"s":"a911","d":"2000-10-27","v":10.9},{"s":"a911","d":"2000-10-28","v":11.1},{"s":"a911","d":"2000-10-29","v":9.9},{"s":"a911","d":"2000-10-30","v":9.7},{"s":"a911","d":"2000-10-31","v":10.0},
{"s":"a911","d":"2000-11-01","v":10.1},{"s":"a911","d":"2000-11-02","v":10.0},{"s":"a911","d":"2000-11-03","v":9.9},{"s":"a911","d":"2000-11-04","v":10.1},{"s":"a911","d":"2000-11-05","v":10.2},{"s":"a911","d":"2000-11-06","v":9.9},{"s":"a911","d":"2000-11-07","v":9.8},{"s":"a911","d":"2000-11-08","v":9.4},{"s":"a911","d":"2000-11-09","v":9.0},{"s":"a911","d":"2000-11-10","v":9.2},{"s":"a911","d":"2000-11-11","v":9.1},{"s":"a911","d":"2000-11-12","v":9.0},{"s":"a911","d":"2000-11-13","v":9.3},{"s":"a911","d":"2000-11-14","v":9.0},{"s":"a911","d":"2000-11-15","v":9.2},{"s":"a911","d":"2000-11-16","v":9.4},{"s":"a911","d":"2000-11-17","v":9.5},{"s":"a911","d":"2000-11-18","v":9.5},{"s":"a911","d":"2000-11-19","v":9.8},{"s":"a911","d":"2000-11-20","v":10.3},{"s":"a911","d":"2000-11-21","v":9.9},{"s":"a911","d":"2000-11-22","v":9.6},{"s":"a911","d":"2000-11-23","v":9.3},{"s":"a911","d":"2000-11-24","v":9.3},{"s":"a911","d":"2000-11-25","v":9.7},{"s":"a911","d":"2000-11-26","v":10.1},{"s":"a911","d":"2000-11-27","v":10.2},{"s":"a911","d":"2000-11-28","v":10.3},{"s":"a911","d":"2000-11-29","v":10.2},{"s":"a911","d":"2000-11-30","v":9.9},
{"s":"a911","d":"2000-12-01","v":9.8},{"s":"a911","d":"2000-12-02","v":9.9},{"s":"a911","d":"2000-12-03","v":10.1},{"s":"a911","d":"2000-12-04","v":10.4},{"s":"a911","d":"2000-12-05","v":10.2},{"s":"a911","d":"2000-12-06","v":9.6},{"s":"a911","d":"2000-12-07","v":9.4},{"s":"a911","d":"2000-12-08","v":9.0},{"s":"a911","d":"2000-12-09","v":8.9},{"s":"a911","d":"2000-12-10","v":9.2},{"s":"a911","d":"2000-12-11","v":9.5},{"s":"a911","d":"2000-12-12","v":9.6},{"s":"a911","d":"2000-12-13","v":9.4},{"s":"a911","d":"2000-12-14","v":9.5},{"s":"a911","d":"2000-12-15","v":9.6},{"s":"a911","d":"2000-12-16","v":9.9},{"s":"a911","d":"2000-12-17","v":10.1},{"s":"a911","d":"2000-12-18","v":9.9},{"s":"a911","d":"2000-12-19","v":9.8},{"s":"a911","d":"2000-12-20","v":10.3},{"s":"a911","d":"2000-12-21","v":10.4},{"s":"a911","d":"2000-12-22","v":9.9},{"s":"a911","d":"2000-12-23","v":9.8},{"s":"a911","d":"2000-12-24","v":10.2},{"s":"a911","d":"2000-12-25","v":10.0},{"s":"a911","d":"2000-12-26","v":9.7},{"s":"a911","d":"2000-12-27","v":9.7},{"s":"a911","d":"2000-12-28","v":9.6},{"s":"a911","d":"2000-12-29","v":9.4},{"s":"a911","d":"2000-12-30","v":9.4},{"s":"a911","d":"2000-12-31","v":9.3}
],
"leg": [
{"s":"a901","d":"2000-04-29","v":6.0,"label":"a901: c403_cer_01 bkg wind"},
{"s":"a941","d":"2000-04-29","v":4.6,"label":"a941: c402_rp_02 bkg wind"},
{"s":"a911","d":"2000-04-29","v":3.1,"label":"a911: c402_rp_02 diag wind"},
{"s":"a905","d":"2000-04-29","v":1.5,"label":"a905: averaged 6-hr c403_cer_01 diag wind"}
]
},
"encoding": {
  "x": {"field": "d", "type": "temporal", "scale": {"type": "utc", "domain": [{"year": 2000, "month": 3, "date": 1, "utc": true}, {"year": 2000, "month": 12, "date": 31, "utc": true}]}},
  "y": {"field": "v", "type": "quantitative", "scale": {"domain": [0, 30], "nice": false, "zero": false}},
  "color": {"field": "s", "type": "nominal", "scale": {"domain": ["a901", "a941", "a911", "a905"], "range": ["#00FFFF", "#FFB000", "#000000", "#0000FF"]}, "legend": null}
},
"layer": [
  {
    "data": {"name": "ts"},
    "transform": [{"filter": "datum.s === 'a901'"}],
    "mark": {"type": "line", "strokeWidth": 3},
    "encoding": {
      "x": {"field": "d", "type": "temporal", "axis": {"orient": "bottom", "values": [
        {"year": 2000, "month": 3, "date": 1, "utc": true}, {"year": 2000, "month": 4, "date": 1, "utc": true}, {"year": 2000, "month": 5, "date": 1, "utc": true}, {"year": 2000, "month": 6, "date": 1, "utc": true}, {"year": 2000, "month": 7, "date": 1, "utc": true}, {"year": 2000, "month": 8, "date": 1, "utc": true}, {"year": 2000, "month": 9, "date": 1, "utc": true}, {"year": 2000, "month": 10, "date": 1, "utc": true}, {"year": 2000, "month": 11, "date": 1, "utc": true}, {"year": 2000, "month": 12, "date": 1, "utc": true}, {"year": 2000, "month": 12, "date": 31, "utc": true}],
        "format": "%-m/%-d", "ticks": false, "labelPadding": 5, "title": "Mar. 1 - Dec. 31, 2000", "titlePadding": 27, "domain": true}},
      "y": {"field": "v", "type": "quantitative", "axis": {"orient": "left", "values": [0, 10, 20, 30], "ticks": false, "labelPadding": 10, "labelFlush": true, "title": "Dobson units", "titlePadding": 18, "domain": true}}
    }
  },
  {
    "data": {"name": "ts"},
    "transform": [{"filter": "datum.s === 'a941'"}],
    "mark": {"type": "line", "strokeWidth": 3},
    "encoding": {
      "x": {"field": "d", "type": "temporal", "axis": {"orient": "bottom", "values": [
        {"year": 2000, "month": 3, "date": 1, "utc": true}, {"year": 2000, "month": 4, "date": 20, "utc": true}, {"year": 2000, "month": 6, "date": 9, "utc": true}, {"year": 2000, "month": 7, "date": 29, "utc": true}, {"year": 2000, "month": 9, "date": 17, "utc": true}, {"year": 2000, "month": 11, "date": 6, "utc": true}, {"year": 2000, "month": 12, "date": 26, "utc": true}],
        "tickSize": -11, "labels": false, "domain": false, "title": null}},
      "y": {"field": "v", "type": "quantitative", "axis": {"orient": "left", "values": [0, 10, 20, 30], "tickSize": -16, "labels": false, "domain": false, "title": null}}
    }
  },
  {
    "data": {"name": "ts"},
    "transform": [{"filter": "datum.s === 'a905'"}],
    "mark": {"type": "line", "strokeWidth": 3},
    "encoding": {
      "x": {"field": "d", "type": "temporal", "axis": {"orient": "bottom", "values": [
        {"year": 2000, "month": 3, "date": 11, "utc": true}, {"year": 2000, "month": 3, "date": 21, "utc": true}, {"year": 2000, "month": 3, "date": 31, "utc": true}, {"year": 2000, "month": 4, "date": 10, "utc": true}, {"year": 2000, "month": 4, "date": 30, "utc": true}, {"year": 2000, "month": 5, "date": 10, "utc": true}, {"year": 2000, "month": 5, "date": 20, "utc": true}, {"year": 2000, "month": 5, "date": 30, "utc": true}, {"year": 2000, "month": 6, "date": 19, "utc": true}, {"year": 2000, "month": 6, "date": 29, "utc": true}, {"year": 2000, "month": 7, "date": 9, "utc": true}, {"year": 2000, "month": 7, "date": 19, "utc": true}, {"year": 2000, "month": 8, "date": 8, "utc": true}, {"year": 2000, "month": 8, "date": 18, "utc": true}, {"year": 2000, "month": 8, "date": 28, "utc": true}, {"year": 2000, "month": 9, "date": 7, "utc": true}, {"year": 2000, "month": 9, "date": 27, "utc": true}, {"year": 2000, "month": 10, "date": 7, "utc": true}, {"year": 2000, "month": 10, "date": 17, "utc": true}, {"year": 2000, "month": 10, "date": 27, "utc": true}, {"year": 2000, "month": 11, "date": 16, "utc": true}, {"year": 2000, "month": 11, "date": 26, "utc": true}, {"year": 2000, "month": 12, "date": 6, "utc": true}, {"year": 2000, "month": 12, "date": 16, "utc": true}],
        "tickSize": -5, "labels": false, "domain": false, "title": null}},
      "y": {"field": "v", "type": "quantitative", "axis": {"orient": "left", "values": [1, 2, 3, 4, 5, 6, 7, 8, 9, 11, 12, 13, 14, 15, 16, 17, 18, 19, 21, 22, 23, 24, 25, 26, 27, 28, 29], "tickSize": -8, "labels": false, "domain": false, "title": null}}
    }
  },
  {
    "data": {"name": "ts"},
    "transform": [{"filter": "datum.s === 'a911'"}],
    "mark": {"type": "line", "strokeWidth": 3},
    "encoding": {
      "x": {"field": "d", "type": "temporal", "axis": {"orient": "top", "values": [
        {"year": 2000, "month": 3, "date": 1, "utc": true}, {"year": 2000, "month": 4, "date": 20, "utc": true}, {"year": 2000, "month": 6, "date": 9, "utc": true}, {"year": 2000, "month": 7, "date": 29, "utc": true}, {"year": 2000, "month": 9, "date": 17, "utc": true}, {"year": 2000, "month": 11, "date": 6, "utc": true}, {"year": 2000, "month": 12, "date": 26, "utc": true}],
        "tickSize": -11, "labels": false, "domain": true, "title": null, "minExtent": 0, "maxExtent": 0}},
      "y": {"field": "v", "type": "quantitative", "axis": {"orient": "right", "values": [0, 10, 20, 30], "tickSize": -16, "labels": false, "domain": true, "title": null, "minExtent": 0, "maxExtent": 0}}
    }
  },
  {
    "data": {"name": "leg"},
    "mark": {"type": "text", "align": "left", "baseline": "middle", "font": "Liberation Sans", "fontSize": 23, "fontWeight": "bold"},
    "encoding": {
      "text": {"field": "label", "type": "nominal"},
      "x": {"field": "d", "type": "temporal", "axis": {"orient": "top", "values": [
        {"year": 2000, "month": 3, "date": 11, "utc": true}, {"year": 2000, "month": 3, "date": 21, "utc": true}, {"year": 2000, "month": 3, "date": 31, "utc": true}, {"year": 2000, "month": 4, "date": 10, "utc": true}, {"year": 2000, "month": 4, "date": 30, "utc": true}, {"year": 2000, "month": 5, "date": 10, "utc": true}, {"year": 2000, "month": 5, "date": 20, "utc": true}, {"year": 2000, "month": 5, "date": 30, "utc": true}, {"year": 2000, "month": 6, "date": 19, "utc": true}, {"year": 2000, "month": 6, "date": 29, "utc": true}, {"year": 2000, "month": 7, "date": 9, "utc": true}, {"year": 2000, "month": 7, "date": 19, "utc": true}, {"year": 2000, "month": 8, "date": 8, "utc": true}, {"year": 2000, "month": 8, "date": 18, "utc": true}, {"year": 2000, "month": 8, "date": 28, "utc": true}, {"year": 2000, "month": 9, "date": 7, "utc": true}, {"year": 2000, "month": 9, "date": 27, "utc": true}, {"year": 2000, "month": 10, "date": 7, "utc": true}, {"year": 2000, "month": 10, "date": 17, "utc": true}, {"year": 2000, "month": 10, "date": 27, "utc": true}, {"year": 2000, "month": 11, "date": 16, "utc": true}, {"year": 2000, "month": 11, "date": 26, "utc": true}, {"year": 2000, "month": 12, "date": 6, "utc": true}, {"year": 2000, "month": 12, "date": 16, "utc": true}],
        "tickSize": -5, "labels": false, "domain": false, "title": null, "minExtent": 0, "maxExtent": 0}},
      "y": {"field": "v", "type": "quantitative", "axis": {"orient": "right", "values": [1, 2, 3, 4, 5, 6, 7, 8, 9, 11, 12, 13, 14, 15, 16, 17, 18, 19, 21, 22, 23, 24, 25, 26, 27, 28, 29], "tickSize": -8, "labels": false, "domain": false, "title": null, "minExtent": 0, "maxExtent": 0}}
    }
  }
],
"resolve": {"axis": {"x": "independent", "y": "independent"}}
}
